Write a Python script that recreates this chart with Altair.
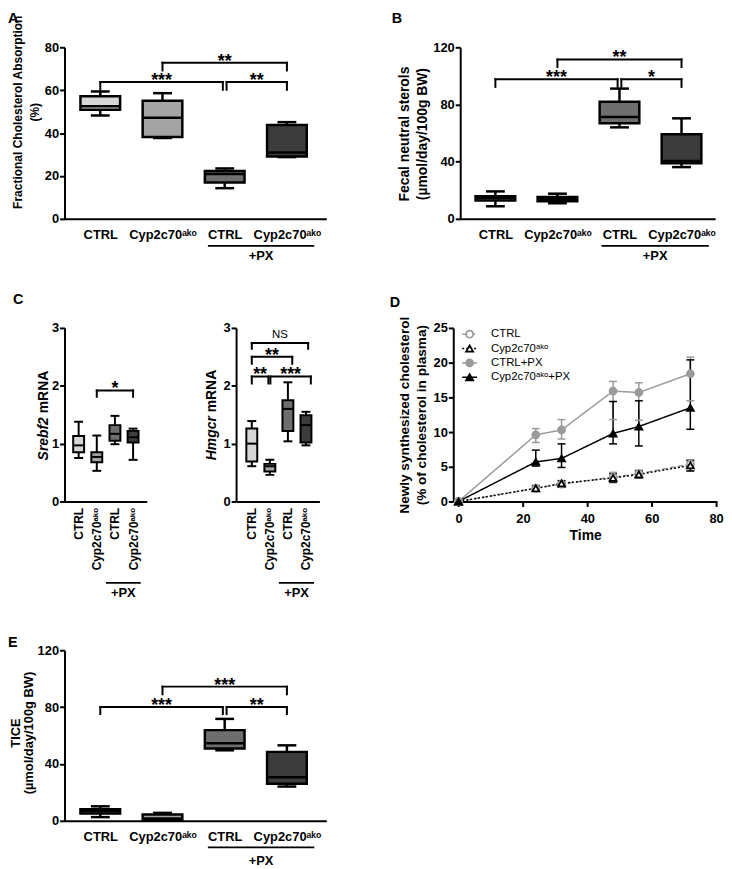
import altair as alt
import pandas as pd

FONT = "Liberation Sans, Arial, sans-serif"
SUP = "\u1d43\u1d4f\u1d52"

# ---------------- data ----------------
positions = [1, 2, 3, 4]
groups = ["CTRL", "Cyp2c70" + SUP, "CTRL", "Cyp2c70" + SUP]
box_fills = ["#d6d6d6", "#a4a4a4", "#6e6e6e", "#3c3c3c"]
group_label = "+PX"

# Panel A: fractional cholesterol absorption (%)
a_min = [48.2, 37.7, 14.3, 28.8]
a_q1 = [50.9, 38.2, 16.9, 29.1]
a_med = [52.5, 47.1, 20.9, 30.9]
a_q3 = [57.2, 55.1, 22.3, 43.8]
a_max = [59.4, 58.6, 23.5, 45.1]
a_br_x1 = [1, 3.03, 2]
a_br_x2 = [2.97, 4, 4]
a_br_y = [63.8, 63.8, 72.8]
a_br_leg = [60.2, 60.2, 69.2]
a_br_lab = ["***", "**", "**"]

# Panel B: fecal neutral sterols
b_min = [8.8, 10.9, 64.0, 36.2]
b_q1 = [12.8, 12.3, 66.8, 38.8]
b_med = [14.4, 13.7, 71.2, 40.5]
b_q3 = [15.8, 15.3, 81.9, 59.1]
b_max = [19.2, 17.6, 91.1, 70.3]
b_br_x1 = [1, 3.03, 2]
b_br_x2 = [2.97, 4, 4]
b_br_y = [97.6, 97.6, 111.5]
b_br_leg = [92.3, 92.3, 106.2]
b_br_lab = ["***", "*", "**"]

# Panel C left: Srebf2 mRNA
cl_min = [0.75, 0.53, 0.99, 0.72]
cl_q1 = [0.85, 0.68, 1.05, 1.02]
cl_med = [0.97, 0.77, 1.17, 1.11]
cl_q3 = [1.13, 0.85, 1.32, 1.22]
cl_max = [1.38, 1.14, 1.48, 1.26]
cl_br_x1 = [2]
cl_br_x2 = [4]
cl_br_y = [1.92]
cl_br_leg = [1.81]
cl_br_lab = ["*"]

# Panel C right: Hmgcr mRNA
cr_min = [0.61, 0.46, 1.04, 0.97]
cr_q1 = [0.69, 0.52, 1.22, 1.02]
cr_med = [1.0, 0.61, 1.6, 1.32]
cr_q3 = [1.26, 0.65, 1.75, 1.49]
cr_max = [1.39, 0.72, 2.06, 1.55]
cr_br_x1 = [1, 1, 1, 2.03]
cr_br_x2 = [4.12, 3.24, 1.92, 4.27]
cr_br_y = [2.74, 2.5, 2.16, 2.16]
cr_br_leg = [2.64, 2.38, 2.04, 2.04]
cr_br_lab = ["NS", "**", "**", "***"]

# Panel E: TICE
e_min = [2.6, 0.4, 49.6, 24.1]
e_q1 = [5.1, 0.6, 50.8, 26.0]
e_med = [6.7, 1.6, 54.5, 30.6]
e_q3 = [8.1, 4.4, 63.8, 48.5]
e_max = [10.2, 5.6, 71.7, 53.1]
e_br_x1 = [1, 3.03, 2]
e_br_x2 = [2.97, 4, 4]
e_br_y = [80.0, 80.0, 94.4]
e_br_leg = [75.1, 75.1, 89.0]
e_br_lab = ["***", "**", "***"]

# Panel D: newly synthesized cholesterol over time
d_time = [0, 24, 32, 48, 56, 72]
series = ["CTRL", "Cyp2c70" + SUP, "CTRL+PX", "Cyp2c70" + SUP + "+PX"]
ctrl_mean = [0, 1.9, 2.5, 3.5, 4.0, 5.4]
ctrl_lo = [0, 1.6, 2.1, 2.7, 3.5, 4.4]
ctrl_hi = [0, 2.2, 2.9, 4.2, 4.5, 6.0]
cyp_mean = [0, 1.9, 2.6, 3.4, 3.9, 5.2]
cyp_lo = [0, 1.5, 2.1, 2.8, 3.4, 4.4]
cyp_hi = [0, 2.3, 3.0, 4.0, 4.4, 5.9]
ctrlpx_mean = [0, 9.6, 10.3, 15.9, 15.7, 18.4]
ctrlpx_lo = [0, 8.5, 9.0, 11.8, 11.7, 14.5]
ctrlpx_hi = [0, 10.5, 11.8, 17.3, 17.1, 20.8]
cyppx_mean = [0, 5.7, 6.2, 9.8, 10.8, 13.5]
cyppx_lo = [0, 5.1, 4.9, 8.3, 8.0, 10.4]
cyppx_hi = [0, 7.4, 8.3, 14.4, 14.5, 20.4]

GRAY = "#9a9a9a"
d_colors = [GRAY, "black", GRAY, "black"]
d_fills = ["white", "white", GRAY, "black"]
d_shapes = ["circle", "triangle-up", "circle", "triangle-up"]
d_dashes = [[5, 3], [2, 2], [1, 0], [1, 0]]
d_widths = [1.5, 1.5, 2, 2]

one = pd.DataFrame({"k": [0]})


# ---------------- helpers ----------------
def label_expr():
    arr = ",".join("'" + g + "'" for g in [""] + groups)
    return "[" + arr + "][datum.value]"


def cat_axis(rotated, fs):
    kw = dict(values=positions, labelExpr=label_expr(), ticks=False, tickSize=0,
              domainColor="black", domainWidth=2, grid=False, title=None,
              labelFont=FONT, labelFontSize=fs, labelFontWeight="bold", labelColor="black",
              labelOverlap=False, labelFlush=False)
    if rotated:
        kw.update(labelAngle=270, labelAlign="right", labelBaseline="middle", labelPadding=6)
    else:
        kw.update(labelAngle=0, labelAlign="center", labelBaseline="top", labelPadding=10)
    return alt.Axis(**kw)


def y_axis(values, title, tx, ty, lh, tfs=13):
    kw = dict(values=values, grid=False, domainColor="black", domainWidth=2,
              tickColor="black", tickWidth=2, tickSize=5,
              labelFont=FONT, labelFontSize=13, labelFontWeight="bold", labelColor="black",
              labelPadding=1, labelOverlap=False, labelFlush=False)
    if title:
        kw.update(title=title, titleFont=FONT, titleFontSize=tfs, titleFontWeight="bold",
                  titleColor="black", titleAngle=270, titleBaseline="top", titleAlign="center",
                  titleX=tx, titleY=ty, titleLineHeight=lh)
    else:
        kw.update(title=None)
    return alt.Axis(**kw)


def txt(text, x, y, size, weight="bold", align="left", baseline="top", angle=0,
        style="normal", dx=0):
    kw = dict(text=text, font=FONT, fontSize=size, fontWeight=weight, align=align,
              baseline=baseline, color="black", fontStyle=style)
    if angle:
        kw["angle"] = angle
    if dx:
        kw["dx"] = dx
    return alt.Chart(one).mark_text(**kw).encode(x=alt.value(x), y=alt.value(y))


def box_panel(stats, xdom, width, height, ydom, yticks, title, tx, ty, box_size, cap_size, sw,
              brk, letter, lpos, gext, line_dy, text_dy, rotated=False, label_fs=13, lh=17,
              custom_title=None, tfs=13):
    lo, q1, med, q3, hi = stats
    df = pd.DataFrame({"pos": positions, "lo": lo, "q1": q1, "med": med, "q3": q3,
                       "hi": hi, "fill": box_fills})
    xs = alt.Scale(domain=xdom, nice=False, zero=False)
    ys = alt.Scale(domain=ydom, nice=False, zero=False)
    xa = cat_axis(rotated, label_fs)
    ya = y_axis(yticks, title, tx, ty, lh, tfs)

    def X(f):
        return alt.X(f + ":Q", scale=xs, axis=xa)

    def Y(f):
        return alt.Y(f + ":Q", scale=ys, axis=ya)

    base = alt.Chart(df)
    layers = [
        base.mark_rule(color="black", strokeWidth=sw).encode(x=X("pos"), y=Y("lo"), y2="hi"),
        base.mark_tick(orient="horizontal", color="black", size=cap_size, thickness=sw,
                       opacity=1).encode(x=X("pos"), y=Y("lo")),
        base.mark_tick(orient="horizontal", color="black", size=cap_size, thickness=sw,
                       opacity=1).encode(x=X("pos"), y=Y("hi")),
        base.mark_bar(size=box_size, stroke="black", strokeWidth=sw, opacity=1).encode(
            x=X("pos"), y=Y("q1"), y2="q3", fill=alt.Fill("fill:N", scale=None)),
        base.mark_tick(orient="horizontal", color="black", size=box_size, thickness=sw,
                       opacity=1).encode(x=X("pos"), y=Y("med")),
    ]
    bdf = pd.DataFrame({"x1": brk[0], "x2": brk[1], "y": brk[2], "yl": brk[3], "lab": brk[4]})
    bdf["xm"] = (bdf["x1"] + bdf["x2"]) / 2
    bb = alt.Chart(bdf)
    layers += [
        bb.mark_rule(color="black", strokeWidth=2, strokeCap="square").encode(
            x=X("x1"), x2="x2", y=Y("y")),
        bb.mark_rule(color="black", strokeWidth=2, strokeCap="square").encode(
            x=X("x1"), y=Y("y"), y2="yl"),
        bb.mark_rule(color="black", strokeWidth=2, strokeCap="square").encode(
            x=X("x2"), y=Y("y"), y2="yl"),
        bb.transform_filter("datum.lab != 'NS'").mark_text(
            font=FONT, fontSize=18, fontWeight="bold", baseline="alphabetic", dy=4,
            color="black").encode(x=X("xm"), y=Y("y"), text="lab:N"),
    ]
    if "NS" in list(brk[4]):
        layers.append(bb.transform_filter("datum.lab == 'NS'").mark_text(
            font=FONT, fontSize=11.5, baseline="alphabetic", dy=-5, color="black").encode(
            x=X("xm"), y=Y("y"), text="lab:N"))
    gdf = pd.DataFrame({"g1": [positions[2] - gext[0]], "g2": [positions[3] + gext[1]],
                        "lab": [group_label]})
    gdf["gm"] = (gdf["g1"] + gdf["g2"]) / 2
    gg = alt.Chart(gdf)
    layers += [
        gg.mark_rule(color="black", strokeWidth=1.8).encode(
            x=X("g1"), x2="g2", y=alt.value(height + line_dy)),
        gg.mark_text(font=FONT, fontSize=13, fontWeight="bold", baseline="middle",
                     color="black").encode(x=X("gm"), y=alt.value(height + text_dy),
                                           text="lab:N"),
    ]
    if custom_title:
        cx, cy, first, second = custom_title
        layers.append(txt(first, cx, cy, 14, align="right", angle=270, style="italic"))
        layers.append(txt(second, cx, cy, 14, align="left", angle=270, dx=4))
    if letter:
        layers.append(txt(letter, lpos[0], lpos[1], 14.5))
    return alt.layer(*layers).properties(width=width, height=height)


# ---------------- panels ----------------
A = box_panel((a_min, a_q1, a_med, a_q3, a_max), [0.505, 4.554], 264, 173, [0, 80],
              [0, 20, 40, 60, 80], ["Fractional Cholesterol Absorption", "(%)"], -53, 65,
              40, 19, 2.5, (a_br_x1, a_br_x2, a_br_y, a_br_leg, a_br_lab),
              "A", (-57, -35), (0.27, 0.44), 27.3, 37, tfs=12.1)

B = box_panel((b_min, b_q1, b_med, b_q3, b_max), [0.513, 4.461], 257, 173, [0, 120],
              [0, 40, 80, 120], ["Fecal neutral sterols", "(\u00b5mol/day/100g BW)"], -63, 87,
              40, 19, 2.5, (b_br_x1, b_br_x2, b_br_y, b_br_leg, b_br_lab),
              "B", (-69, -35), (0.29, 0.44), 27.3, 37, lh=18, tfs=14)

C1 = box_panel((cl_min, cl_q1, cl_med, cl_q3, cl_max), [0.495, 4.485], 83, 175, [0, 3],
               [0, 1, 2, 3], None, 0, 0, 11, 9, 2,
               (cl_br_x1, cl_br_x2, cl_br_y, cl_br_leg, cl_br_lab),
               "C", (-52, -35), (0.5, 0.42), 82, 92.5, rotated=True, label_fs=12,
               custom_title=(-28, 90, "Srebf2", "mRNA"))

C2 = box_panel((cr_min, cr_q1, cr_med, cr_q3, cr_max), [0.405, 4.469], 84, 175, [0, 3],
               [0, 1, 2, 3], None, 0, 0, 11, 9, 2,
               (cr_br_x1, cr_br_x2, cr_br_y, cr_br_leg, cr_br_lab),
               None, None, (0.5, 0.45), 82, 92.5, rotated=True, label_fs=12,
               custom_title=(-31, 89, "Hmgcr", "mRNA"))

E = box_panel((e_min, e_q1, e_med, e_q3, e_max), [0.505, 4.554], 264, 172, [0, 120],
              [0, 40, 80, 120], ["TICE", "(\u00b5mol/day/100g BW)"], -55, 83,
              40, 19, 2.5, (e_br_x1, e_br_x2, e_br_y, e_br_leg, e_br_lab),
              "E", (-57, -14), (0.27, 0.44), 26.7, 41, lh=12.5)

# Panel D
D_W, D_H = 266, 175
d_xdom = [-1.63, 80.3]
d_ydom = [0, 25]
rows = []
for s, m, l, h in zip(series, [ctrl_mean, cyp_mean, ctrlpx_mean, cyppx_mean],
                      [ctrl_lo, cyp_lo, ctrlpx_lo, cyppx_lo],
                      [ctrl_hi, cyp_hi, ctrlpx_hi, cyppx_hi]):
    for t, mm, ll, hh in zip(d_time, m, l, h):
        rows.append({"series": s, "t": t, "mean": mm, "lo": ll, "hi": hh})
ddf = pd.DataFrame(rows)


def px2x(p):
    return d_xdom[0] + p * (d_xdom[1] - d_xdom[0]) / D_W


def py2y(p):
    return d_ydom[1] - p * (d_ydom[1] - d_ydom[0]) / D_H


legdf = pd.DataFrame({"series": series, "label": series})
legdf["ly"] = [py2y(6.3 + 14.5 * i) for i in range(len(series))]
legdf["lx1"] = px2x(9)
legdf["lx2"] = px2x(24)
legdf["lxm"] = px2x(16.5)
legdf["lxt"] = px2x(38)

dxs = alt.Scale(domain=d_xdom, nice=False, zero=False)
dys = alt.Scale(domain=d_ydom, nice=False, zero=False)
dxa = alt.Axis(values=[0, 20, 40, 60, 80], grid=False, domainColor="black", domainWidth=2,
               tickColor="black", tickWidth=2, tickSize=5, labelFont=FONT, labelFontSize=13,
               labelFontWeight="bold", labelColor="black", labelPadding=6, labelFlush=False,
               title="Time", titleFont=FONT, titleFontSize=14, titleFontWeight="bold",
               titleColor="black", titlePadding=3)
dya = alt.Axis(values=[0, 5, 10, 15, 20, 25], grid=False, domainColor="black", domainWidth=2,
               tickColor="black", tickWidth=2, tickSize=5, labelFont=FONT, labelFontSize=13,
               labelFontWeight="bold", labelColor="black", labelPadding=1, labelFlush=False,
               title=["Newly synthesized cholesterol", "(% of cholesterol in plasma)"],
               titleFont=FONT, titleFontSize=13.7, titleFontWeight="bold", titleColor="black",
               titleAngle=270, titleBaseline="top", titleAlign="center", titleX=-56,
               titleY=87.5, titleLineHeight=17)


def DX(f):
    return alt.X(f + ":Q", scale=dxs, axis=dxa)


def DY(f):
    return alt.Y(f + ":Q", scale=dys, axis=dya)


col = alt.Color("series:N", scale=alt.Scale(domain=series, range=d_colors), legend=None)
stk = alt.Stroke("series:N", scale=alt.Scale(domain=series, range=d_colors), legend=None)
fil = alt.Fill("series:N", scale=alt.Scale(domain=series, range=d_fills), legend=None)
shp = alt.Shape("series:N", scale=alt.Scale(domain=series, range=d_shapes), legend=None)
dsh = alt.StrokeDash("series:N", scale=alt.Scale(domain=series, range=d_dashes), legend=None)
swd = alt.StrokeWidth("series:N", scale=alt.Scale(domain=series, range=d_widths), legend=None)

dbase = alt.Chart(ddf)
dlayers = [
    dbase.mark_line().encode(x=DX("t"), y=DY("mean"), color=col, strokeDash=dsh,
                             strokeWidth=swd),
    dbase.transform_filter("datum.t > 0").mark_rule(strokeWidth=1.5).encode(
        x=DX("t"), y=DY("lo"), y2="hi", color=col),
    dbase.transform_filter("datum.t > 0").mark_tick(orient="horizontal", size=8,
                                                     thickness=1.5, opacity=1).encode(
        x=DX("t"), y=DY("lo"), color=col),
    dbase.transform_filter("datum.t > 0").mark_tick(orient="horizontal", size=8,
                                                     thickness=1.5, opacity=1).encode(
        x=DX("t"), y=DY("hi"), color=col),
    dbase.mark_point(filled=True, opacity=1, strokeWidth=1.8, size=50).encode(
        x=DX("t"), y=DY("mean"), shape=shp, fill=fil, stroke=stk),
]
lbase = alt.Chart(legdf)
dlayers += [
    lbase.mark_rule().encode(x=DX("lx1"), x2="lx2", y=DY("ly"), color=col, strokeDash=dsh,
                             strokeWidth=swd),
    lbase.mark_point(filled=True, opacity=1, strokeWidth=1.8, size=50).encode(
        x=DX("lxm"), y=DY("ly"), shape=shp, fill=fil, stroke=stk),
    lbase.mark_text(font=FONT, fontSize=11.5, align="left", baseline="middle",
                    color="black").encode(x=DX("lxt"), y=DY("ly"), text="label:N"),
    txt("D", -64, -32, 14.5),
]
D = alt.layer(*dlayers).properties(width=D_W, height=D_H)

# ---------------- layout ----------------
row_top = alt.hconcat(A, B, spacing=66)
c_group = alt.hconcat(C1, C2, spacing=59)
row_mid = alt.hconcat(c_group, D, spacing=71)
upper = alt.vconcat(row_top, row_mid, spacing=30)
chart = alt.vconcat(upper, E, spacing=35).properties(
    padding={"left": 0, "top": 0, "right": 0, "bottom": 0}
).configure_view(stroke=None)

chart.save("out.html", embed_options={"renderer": "svg", "actions": False})
